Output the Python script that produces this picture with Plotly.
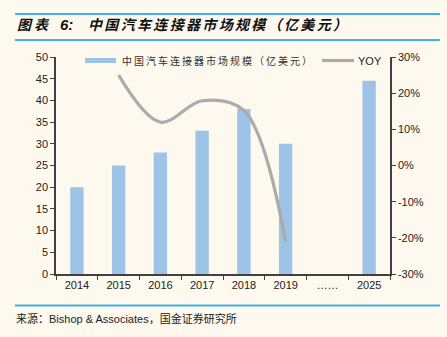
import plotly.graph_objects as go

categories = ["2014", "2015", "2016", "2017", "2018", "2019", "……", "2025"]
market_size = [20, 25, 28, 33, 38, 30, None, 44.5]
yoy = [None, 25.0, 12.0, 17.9, 15.2, -21.1, None, None]
yoy_ticks = [-30, -20, -10, 0, 10, 20, 30]
yoy_tick_labels = ["-30%", "-20%", "-10%", "0%", "10%", "20%", "30%"]

W, H = 447, 337
L, R, T, B = 56, 390, 57, 274
pw, ph = R - L, B - T

def px(x):
    return (x - L) / pw

def py(y):
    return (B - y) / ph

CJK = "Noto Sans CJK SC"
LAT = "Liberation Sans, Arial"
BG = "#FEF9EE"
BAR = "#9DC3E6"
LINE = "#ABABAB"
AX = "#404040"
BLUE = "#41B0E8"

def spaced(s, sp="\u2009"):
    return sp.join(list(s))

fig = go.Figure()
fig.add_trace(go.Bar(x=categories, y=market_size, marker=dict(color=BAR, line=dict(width=0)),
                     name="中国汽车连接器市场规模（亿美元）", yaxis="y"))
fig.add_trace(go.Scatter(x=categories, y=yoy, mode="lines", name="YOY", yaxis="y2",
                         line=dict(color=LINE, width=3.2, shape="spline", smoothing=1.0),
                         connectgaps=False))

fig.update_layout(
    width=W, height=H,
    margin=dict(l=L, r=W - R, t=T, b=H - B, pad=0),
    paper_bgcolor=BG, plot_bgcolor=BG,
    showlegend=False, bargap=0.68,
    font=dict(family=LAT, size=11, color="#222222"),
    xaxis=dict(type="category", showline=True, linecolor=AX, linewidth=1.5,
               ticks="outside", tickson="boundaries", ticklen=4, tickcolor=AX,
               tickfont=dict(family=LAT, size=11, color="#222222"), showgrid=False,
               zeroline=False),
    yaxis=dict(range=[0, 50], dtick=5, showline=True, linecolor=AX, linewidth=1.5,
               ticks="outside", ticklen=4, tickcolor=AX, showgrid=False, zeroline=False,
               tickfont=dict(family=LAT, size=11, color="#222222")),
    yaxis2=dict(range=[-30, 30], tickmode="array", tickvals=yoy_ticks, ticktext=yoy_tick_labels,
                overlaying="y", side="right", showline=True,
                linecolor=AX, linewidth=1.5, ticks="outside", ticklen=4, tickcolor=AX,
                showgrid=False, zeroline=False,
                tickfont=dict(family=LAT, size=11, color="#222222")),
)

shapes = [
    dict(type="line", xref="paper", yref="paper", x0=px(15), x1=px(440), y0=py(14), y1=py(14),
         line=dict(color=BLUE, width=2)),
    dict(type="line", xref="paper", yref="paper", x0=px(15), x1=px(440), y0=py(40), y1=py(40),
         line=dict(color=BLUE, width=2)),
    dict(type="line", xref="paper", yref="paper", x0=px(15), x1=px(440), y0=py(305.5), y1=py(305.5),
         line=dict(color=BLUE, width=2)),
    # legend swatches
    dict(type="rect", xref="paper", yref="paper", x0=px(85), x1=px(116), y0=py(63), y1=py(58),
         fillcolor=BAR, line=dict(width=0)),
    dict(type="line", xref="paper", yref="paper", x0=px(322), x1=px(354), y0=py(60.5), y1=py(60.5),
         line=dict(color=LINE, width=3.2)),
]

annotations = [
    dict(text="<b><i>图</i></b>", xref="paper", yref="paper", x=px(15), y=py(24),
         xanchor="left", yanchor="middle", showarrow=False,
         font=dict(family=CJK, size=14, color="#111111")),
    dict(text="<b><i>表</i></b>", xref="paper", yref="paper", x=px(32), y=py(24),
         xanchor="left", yanchor="middle", showarrow=False,
         font=dict(family=CJK, size=14, color="#111111")),
    dict(text="<b><i>6:</i></b>", xref="paper", yref="paper", x=px(58), y=py(24),
         xanchor="left", yanchor="middle", showarrow=False,
         font=dict(family=LAT, size=15, color="#111111")),
    dict(text="<b><i>" + spaced("中国汽车连接器市场规模（亿美元）", "\u2006") + "</i></b>",
         xref="paper", yref="paper", x=px(86), y=py(24), xanchor="left", yanchor="middle",
         showarrow=False, font=dict(family=CJK + ", DejaVu Sans", size=14, color="#111111")),
    dict(text=spaced("中国汽车连接器市场规模（亿美元）"), xref="paper", yref="paper",
         x=px(120), y=py(60.5), xanchor="left", yanchor="middle", showarrow=False,
         font=dict(family=CJK, size=10, color="#333333")),
    dict(text="YOY", xref="paper", yref="paper", x=px(356), y=py(60.5), xanchor="left",
         yanchor="middle", showarrow=False, font=dict(family=LAT, size=11, color="#222222")),
    dict(text="来源：Bishop & Associates，国金证券研究所", xref="paper", yref="paper",
         x=px(14), y=py(318), xanchor="left", yanchor="middle", showarrow=False,
         font=dict(family=LAT + ", " + CJK, size=11, color="#222222")),
]

fig.update_layout(shapes=shapes, annotations=annotations)
fig.write_html("out.html")
